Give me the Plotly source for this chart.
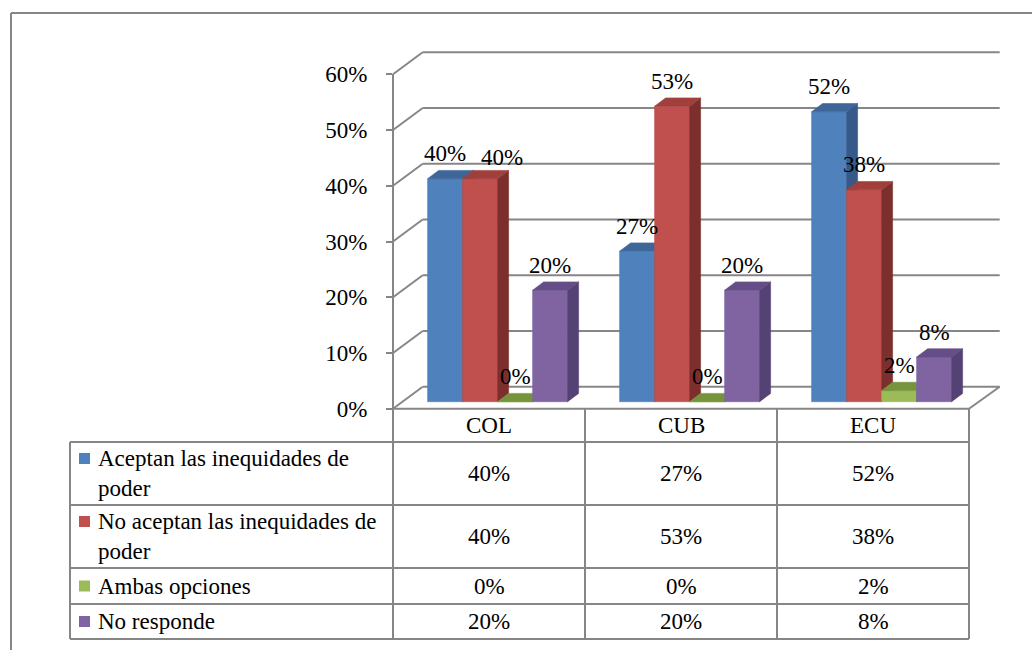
import plotly.graph_objects as go

# ---------------- data ----------------
categories = ["COL", "CUB", "ECU"]
series_labels = [
    "Aceptan las inequidades de<br>poder",
    "No aceptan las inequidades de<br>poder",
    "Ambas opciones",
    "No responde",
]
aceptan = [40, 27, 52]
no_aceptan = [40, 53, 38]
ambas = [0, 0, 2]
no_responde = [20, 20, 8]
y_ticks = [0, 10, 20, 30, 40, 50, 60]
y_tick_text = ["0%", "10%", "20%", "30%", "40%", "50%", "60%"]

series_values = [aceptan, no_aceptan, ambas, no_responde]
front_colors = ["#4F81BD", "#C0504D", "#9BBB59", "#8064A2"]
top_colors = ["#3E6699", "#A03F3C", "#77933C", "#654E87"]
side_colors = ["#36598A", "#7C2F2D", "#5E7630", "#554274"]

# ---------------- geometry (pixel scale of the plotting axes) ----------------
W, H = 1032, 650
CAT_PX0 = 489.0      # pixel x of first category centre
CAT_PX = 192.0       # pixels per category
ZERO_PY = 401.7      # pixel y of the 0 % level at the bars' depth
PCT_PX = 5.575       # pixels per percent

def dx(px):
    return px / CAT_PX

def dy(px):
    return px / PCT_PX

def X(px):
    return (px - CAT_PX0) / CAT_PX

def Y(py):
    return (ZERO_PY - py) / PCT_PX

def PX(px):
    return px / W

def PY(py):
    return 1 - py / H

GRID = "#868686"
FONT = dict(family="Liberation Serif, Times New Roman, serif", size=23, color="black")

FRONT_PY = 408.8          # front edge of the floor (pixel)
FLOOR_DX, FLOOR_DY = 29.7, 22.0
LEFT_PX, RIGHT_PX = 393.0, 969.0

BAR_W = dx(35)
GROUP_SHIFT = dx(8.6)
BD_X, BD_Y = dx(11), dy(8.3)

fig = go.Figure()

# ---------------- 3D bars (painter's order) ----------------
for s, vals in enumerate(series_values):
    fx, fy, sx, sy, tx, ty = [], [], [], [], [], []
    for c, v in enumerate(vals):
        xc = c + GROUP_SHIFT + (s - 1.5) * BAR_W
        xl, xr = xc - BAR_W / 2, xc + BAR_W / 2
        fx += [xl, xr, xr, xl, xl, None]
        fy += [0, 0, v, v, 0, None]
        sx += [xr, xr + BD_X, xr + BD_X, xr, xr, None]
        sy += [0, BD_Y, v + BD_Y, v, 0, None]
        tx += [xl, xr, xr + BD_X, xl + BD_X, xl, None]
        ty += [v, v, v + BD_Y, v + BD_Y, v, None]
    for xs, ys, col in ((fx, fy, front_colors[s]), (sx, sy, side_colors[s]), (tx, ty, top_colors[s])):
        fig.add_trace(go.Scatter(
            x=xs, y=ys, mode="lines", fill="toself", fillcolor=col,
            line=dict(color=col, width=0.6), hoverinfo="skip", showlegend=False,
        ))

# invisible trace owning the visible front value axis
fig.add_trace(go.Scatter(x=[0], y=[0], xaxis="x2", yaxis="y2", mode="markers",
                         marker=dict(opacity=0), hoverinfo="skip", showlegend=False))

# ---------------- walls / gridlines ----------------
shapes = []
front0 = Y(FRONT_PY)
back0 = Y(FRONT_PY - FLOOR_DY)
for v in y_ticks:
    shapes.append(dict(type="line", xref="x", yref="y", layer="below",
                       x0=X(LEFT_PX + FLOOR_DX), x1=X(RIGHT_PX + FLOOR_DX + 1),
                       y0=v + back0, y1=v + back0, line=dict(color=GRID, width=2)))
    shapes.append(dict(type="line", xref="x", yref="y", layer="below",
                       x0=X(LEFT_PX), x1=X(LEFT_PX + FLOOR_DX),
                       y0=v + front0, y1=v + back0, line=dict(color=GRID, width=2)))
shapes.append(dict(type="line", xref="x", yref="y", layer="below",
                   x0=X(RIGHT_PX), x1=X(RIGHT_PX + FLOOR_DX + 1),
                   y0=front0, y1=back0, line=dict(color=GRID, width=2)))

# ---------------- data table ----------------
ROW_Y = [FRONT_PY, 442, 505, 568, 604, 639]
COL_X = [LEFT_PX, 585, 777, RIGHT_PX]
TABLE_LEFT = 70
shapes.append(dict(type="line", xref="paper", yref="paper", x0=PX(LEFT_PX), x1=PX(RIGHT_PX),
                   y0=PY(ROW_Y[0]), y1=PY(ROW_Y[0]), line=dict(color=GRID, width=2)))
for ry in ROW_Y[1:]:
    shapes.append(dict(type="line", xref="paper", yref="paper", x0=PX(TABLE_LEFT), x1=PX(RIGHT_PX),
                       y0=PY(ry), y1=PY(ry), line=dict(color=GRID, width=2)))
for cx in COL_X:
    shapes.append(dict(type="line", xref="paper", yref="paper", x0=PX(cx), x1=PX(cx),
                       y0=PY(ROW_Y[0]), y1=PY(ROW_Y[-1]), line=dict(color=GRID, width=2)))
shapes.append(dict(type="line", xref="paper", yref="paper", x0=PX(TABLE_LEFT), x1=PX(TABLE_LEFT),
                   y0=PY(ROW_Y[1]), y1=PY(ROW_Y[-1]), line=dict(color=GRID, width=2)))

# outer chart frame (cut by the page edge)
shapes.append(dict(type="line", xref="paper", yref="paper", x0=PX(11), x1=1.0,
                   y0=PY(13), y1=PY(13), line=dict(color=GRID, width=2)))
shapes.append(dict(type="line", xref="paper", yref="paper", x0=PX(11), x1=PX(11),
                   y0=PY(13), y1=0.0, line=dict(color=GRID, width=2)))

annotations = []
for c, name in enumerate(categories):
    annotations.append(dict(x=c, xref="x", y=PY((ROW_Y[0] + ROW_Y[1]) / 2), yref="paper",
                            text=name, showarrow=False, font=FONT, xanchor="center", yanchor="middle"))
for s, (label, vals) in enumerate(zip(series_labels, series_values)):
    top, bot = ROW_Y[s + 1], ROW_Y[s + 2]
    mid = (top + bot) / 2
    first_line = mid - 15 if "<br>" in label else mid
    shapes.append(dict(type="rect", xref="paper", yref="paper",
                       x0=PX(79), x1=PX(90), y0=PY(first_line - 5.5), y1=PY(first_line + 5.5),
                       fillcolor=front_colors[s], line=dict(width=0)))
    annotations.append(dict(x=PX(96), xref="paper", y=PY(mid), yref="paper", text=label,
                            showarrow=False, font=FONT, xanchor="left", yanchor="middle", align="left"))
    for c, v in enumerate(vals):
        annotations.append(dict(x=c, xref="x", y=PY(mid), yref="paper", text=f"{v}%",
                                showarrow=False, font=FONT, xanchor="center", yanchor="middle"))

# data labels above the bars
for s, vals in enumerate(series_values):
    for c, v in enumerate(vals):
        xc = c + GROUP_SHIFT + (s - 1.5) * BAR_W
        xs, ys = 0, 25
        if s == 1 and c == 0:   # nudged right to avoid the neighbouring label
            xs, ys = 22, 21
        annotations.append(dict(x=xc, y=v, xref="x", yref="y", text=f"{v}%", showarrow=False,
                                font=FONT, xanchor="center", yanchor="middle", xshift=xs, yshift=ys))

fig.update_layout(
    template="none",
    autosize=False,
    width=W, height=H,
    margin=dict(l=0, r=0, t=0, b=0, pad=0, autoexpand=False),
    paper_bgcolor="white", plot_bgcolor="rgba(0,0,0,0)",
    showlegend=False,
    shapes=shapes, annotations=annotations,
    xaxis=dict(range=[X(0), X(W)], domain=[0, 1], visible=False, fixedrange=True, automargin=False),
    yaxis=dict(range=[Y(H), Y(0)], domain=[0, 1], visible=False, fixedrange=True, automargin=False),
    xaxis2=dict(range=[0, 1], domain=[0, 1], visible=False, anchor="y2", fixedrange=True, automargin=False),
    yaxis2=dict(
        anchor="free", position=PX(LEFT_PX), side="left", automargin=False,
        domain=[PY(FRONT_PY), PY(FRONT_PY - 60 * PCT_PX)], range=[0, 60],
        tickmode="array", tickvals=y_ticks, ticktext=y_tick_text,
        ticks="outside", ticklen=6, tickwidth=2,
        tickcolor=GRID, showline=True, linecolor=GRID, linewidth=2,
        showgrid=False, zeroline=False, tickfont=FONT, ticklabelstandoff=14,
        fixedrange=True,
    ),
)

fig.write_html("out.html", config={"displayModeBar": False, "responsive": False},
               post_script="document.body.style.margin='0';")
